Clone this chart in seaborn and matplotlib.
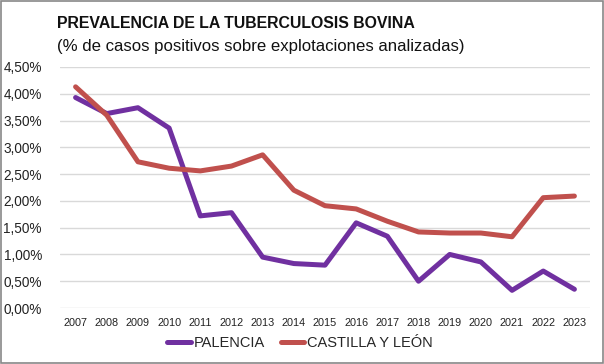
import matplotlib
matplotlib.use("Agg")
import matplotlib.pyplot as plt
import seaborn as sns
import pandas as pd
from matplotlib.ticker import FuncFormatter
from matplotlib.patches import Rectangle

years = [str(y) for y in range(2007, 2024)]
palencia = [3.93, 3.63, 3.74, 3.36, 1.72, 1.78, 0.95, 0.83, 0.80, 1.59, 1.34, 0.50, 1.00, 0.86, 0.33, 0.69, 0.35]
castilla = [4.13, 3.60, 2.73, 2.61, 2.56, 2.65, 2.86, 2.20, 1.91, 1.85, 1.62, 1.42, 1.40, 1.40, 1.33, 2.06, 2.09]
series_names = ["PALENCIA", "CASTILLA Y LEÓN"]
colors = ["#7030A0", "#C0504D"]
title = "PREVALENCIA DE LA TUBERCULOSIS BOVINA"
subtitle = "(% de casos positivos sobre explotaciones analizadas)"

df = pd.DataFrame({
    "year": years * 2,
    "value": palencia + castilla,
    "serie": [series_names[0]] * len(years) + [series_names[1]] * len(years),
})

sns.set_theme(style="white")
plt.rcParams["font.family"] = ["Liberation Sans", "DejaVu Sans"]

fig = plt.figure(figsize=(6.04, 3.64), dpi=100)
ax = fig.add_axes([60/604, 1-308/364, 530/604, 241/364])

sns.lineplot(data=df, x="year", y="value", hue="serie", palette=colors,
             linewidth=3.6, ax=ax, legend=True, sort=False)
for ln in ax.get_lines():
    ln.set_solid_capstyle("round")
    ln.set_solid_joinstyle("round")

ax.set_ylim(0, 4.5)
ax.set_xlim(-0.5, len(years) - 0.5)
ax.set_yticks([i * 0.5 for i in range(10)])
ax.yaxis.set_major_formatter(FuncFormatter(lambda v, p: f"{v:.2f}%".replace(".", ",")))
ax.grid(axis="y", color="#d9d9d9", linewidth=1)
ax.set_axisbelow(True)
for s in ax.spines.values():
    s.set_visible(False)
ax.set_xlabel("")
ax.set_ylabel("")
ax.tick_params(axis="y", labelsize=9.8, colors="#222222", length=0, pad=13)
ax.tick_params(axis="x", labelsize=7.8, colors="#222222", length=0, pad=7)

handles, labels = ax.get_legend_handles_labels()
ax.legend(handles, labels, loc="center", bbox_to_anchor=(300/604, 1-343/364),
          bbox_transform=fig.transFigure, ncol=2, frameon=False,
          fontsize=10.5, handlelength=1.6, handletextpad=0.2, columnspacing=1.1)

fig.text(57/604, 1-23/364, title, fontsize=11.4, fontweight="bold", va="center", ha="left", color="#111111")
fig.text(57/604, 1-46/364, subtitle, fontsize=12.1, va="center", ha="left", color="#111111")

fig.patches.append(Rectangle((0.001, 0.002), 0.997, 0.995, transform=fig.transFigure,
                             fill=False, edgecolor="#888888", linewidth=1.2))

fig.savefig("out.png", dpi=100)
